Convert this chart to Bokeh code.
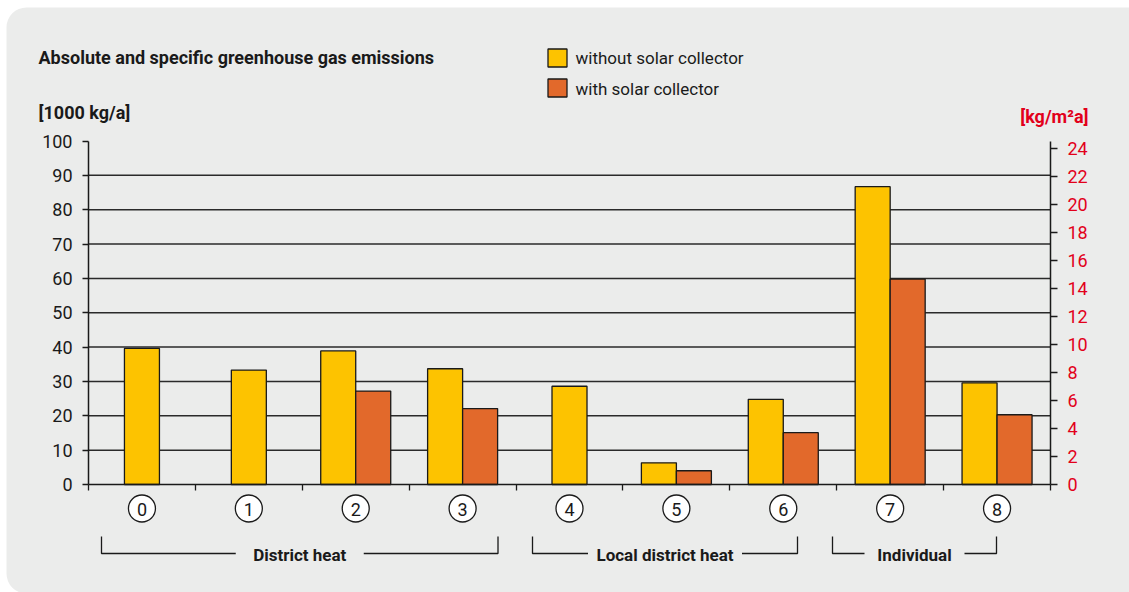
from bokeh.plotting import figure
from bokeh.models import (LinearAxis, Range1d, FixedTicker, Label, BoxAnnotation)
from bokeh.core.properties import value
from bokeh.embed import file_html
from bokeh.resources import INLINE

# ---------------- data ----------------
categories = ["0", "1", "2", "3", "4", "5", "6", "7", "8"]
without_solar = [39.6, 33.3, 38.9, 33.7, 28.6, 6.3, 24.8, 86.7, 29.6]
with_solar = [None, None, 27.2, 22.1, None, 4.0, 15.1, 59.8, 20.3]
series_names = ["without solar collector", "with solar collector"]
left_ticks = [0, 10, 20, 30, 40, 50, 60, 70, 80, 90, 100]
right_ticks = [0, 2, 4, 6, 8, 10, 12, 14, 16, 18, 20, 22, 24]
groups = ["District heat", "Local district heat", "Individual"]
title_text = "Absolute and specific greenhouse gas emissions"
left_unit = "[1000 kg/a]"
right_unit = "[kg/m\u00b2a]"

# ---------------- layout / style ----------------
W, H = 1129, 592
FRAME_L, FRAME_R = 88, 1050          # page px of plot area
BASE_Y = 484                          # page px of value 0
PX = 3.435                            # px per left-axis unit
CAT_PX = (FRAME_R - FRAME_L) / len(categories)
RIGHT_MAX = 24.5
RATIO = RIGHT_MAX / 100.0

BG = "#ebeceb"
YELLOW = "#fdc300"
ORANGE = "#e2692b"
RED = "#e2001a"
INK = "#1a1a1a"
FONT = "Roboto"
FS = "17px"
FS_NUM = "18px"
FS_TITLE = "18px"


def dx(page_x):
    return (page_x - FRAME_L) / CAT_PX


def dy(page_y):
    return (BASE_Y - page_y) / PX


p = figure(width=W, height=H, output_backend="svg", toolbar_location=None,
           x_range=Range1d(dx(0), dx(W)), y_range=Range1d(dy(H), dy(0)),
           x_axis_location=None, y_axis_location=None,
           min_border=0, background_fill_color="white", border_fill_color="white",
           outline_line_color=None)
p.extra_y_ranges = {"right": Range1d(dy(H) * RATIO, dy(0) * RATIO)}
p.xgrid.visible = False
p.ygrid.visible = False

# grey rounded panel
p.add_layout(BoxAnnotation(left=dx(6), right=dx(W + 30), top=dy(7), bottom=dy(H + 1),
                           border_radius=20, fill_color=BG, fill_alpha=1.0,
                           line_color=None, level="underlay"))

# horizontal grid lines (between the two axes)
gt = left_ticks[1:-1]
p.segment(x0=[0] * len(gt), x1=[len(categories)] * len(gt), y0=gt, y1=gt,
          line_color="#2a2a2a", line_width=1.5)


def style_axis(ax, color, tick_out):
    ax.axis_line_color = INK
    ax.axis_line_width = 1.5
    ax.major_tick_line_color = INK
    ax.major_tick_line_width = 1.3
    ax.major_tick_in = 0
    ax.major_tick_out = tick_out
    ax.minor_tick_line_color = None
    ax.major_label_standoff = 10
    ax.major_label_text_font = FONT
    ax.major_label_text_font_size = FS_NUM
    ax.major_label_text_color = color


la = LinearAxis(ticker=FixedTicker(ticks=left_ticks), bounds=(0, 100), fixed_location=0)
style_axis(la, INK, 6)
p.add_layout(la, "left")

ra = LinearAxis(y_range_name="right", ticker=FixedTicker(ticks=right_ticks), bounds=(0, RIGHT_MAX),
                fixed_location=len(categories))
style_axis(ra, RED, 7)
p.add_layout(ra, "right")

ba = LinearAxis(ticker=FixedTicker(ticks=list(range(len(categories) + 1))), fixed_location=0,
                bounds=(0, len(categories)))
style_axis(ba, INK, 6)
ba.major_label_text_font_size = "0px"
ba.major_label_text_color = None
p.add_layout(ba, "below")

# bars
BW = 35 / CAT_PX
yx, yv, ox, ov = [], [], [], []
for i, (a, b) in enumerate(zip(without_solar, with_solar)):
    c = i + 0.5
    if b is None:
        yx.append(c); yv.append(a)
    else:
        yx.append(c - BW / 2); yv.append(a)
        ox.append(c + BW / 2); ov.append(b)
p.vbar(x=yx, top=yv, bottom=0, width=BW, fill_color=YELLOW, line_color=INK, line_width=1.3)
p.vbar(x=ox, top=ov, bottom=0, width=BW, fill_color=ORANGE, line_color=INK, line_width=1.3)

# circled category labels
cx = [i + 0.5 for i in range(len(categories))]
cy = [dy(508)] * len(categories)
p.scatter(x=cx, y=cy, marker="circle", size=27, fill_color="white", line_color=INK, line_width=1.3)
p.text(x=cx, y=[dy(509)] * len(categories), text=categories, text_align="center", text_baseline="middle",
       text_font=value(FONT), text_font_size=FS_NUM, text_color=INK)

# group brackets
bracket_ext = [(dx(101), dx(497.5)), (dx(532), dx(797)), (dx(832), dx(996))]
gap_half_px = [64, 77, 50]
y_hi, y_lo = dy(536), dy(553)
for name, (x0, x1), g in zip(groups, bracket_ext, gap_half_px):
    xm = (x0 + x1) / 2
    gh = g / CAT_PX
    p.multi_line(xs=[[x0, x0, xm - gh], [xm + gh, x1, x1]],
                 ys=[[y_hi, y_lo, y_lo], [y_lo, y_lo, y_hi]], line_color=INK, line_width=1.3)
    p.text(x=[xm], y=[dy(554)], text=[name], text_align="center", text_baseline="middle",
           text_font=value(FONT), text_font_style="bold", text_font_size=FS, text_color=INK)

# legend
p.rect(x=[dx(557)] * 2, y=[dy(57.5), dy(87.5)], width=19 / CAT_PX, height=18 / PX,
       fill_color=[YELLOW, ORANGE], line_color=INK, line_width=1.3)
p.text(x=[dx(575)] * 2, y=[dy(57), dy(88)], text=series_names, text_align="left",
       text_baseline="middle", text_font=value(FONT), text_font_size=FS, text_color=INK)

# titles
p.add_layout(Label(x=dx(38), y=dy(57), text=title_text, text_align="left", text_baseline="middle",
                   text_font=FONT, text_font_style="bold", text_font_size=FS_TITLE, text_color=INK))
p.add_layout(Label(x=dx(38), y=dy(112), text=left_unit, text_align="left", text_baseline="middle",
                   text_font=FONT, text_font_style="bold", text_font_size=FS_TITLE, text_color=INK))
p.add_layout(Label(x=dx(1088), y=dy(116), text=right_unit, text_align="right", text_baseline="middle",
                   text_font=FONT, text_font_style="bold", text_font_size=FS_TITLE, text_color=RED))

open("out.html", "w").write(file_html(p, INLINE))
